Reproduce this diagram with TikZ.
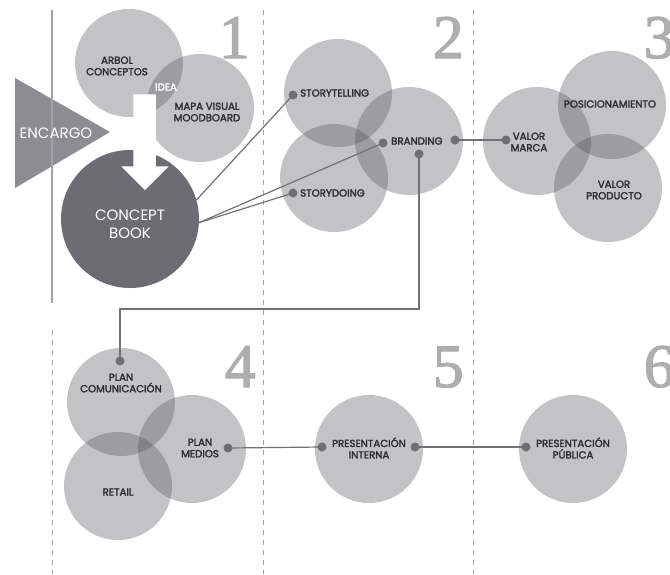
\documentclass[tikz,border=0pt]{standalone}
\usepackage{fontspec}
\setmainfont{Poppins}
\newfontfamily\lblfont{Poppins}[FakeBold=2.4]
\newfontfamily\numfont{Liberation Serif}[FakeBold=2]
\definecolor{circgray}{HTML}{55545C}
\definecolor{darkc}{HTML}{6D6C72}
\definecolor{trig}{HTML}{8D8C92}
\definecolor{dotc}{HTML}{6F6E74}
\definecolor{linec}{HTML}{727176}
\definecolor{numc}{HTML}{AEADB0}
\definecolor{txt}{HTML}{2E2D33}
\definecolor{guide}{HTML}{A3A3A3}
\begin{document}
\begin{tikzpicture}[x=1pt,y=-1pt,
  circ/.style={circle, fill=circgray, fill opacity=0.35, minimum size=108pt, inner sep=0pt},
  lbl/.style={font=\lblfont\fontsize{10.2}{11.5}\selectfont, text=txt, align=center, inner sep=0pt},
  wlbl/.style={font=\fontsize{14}{17}\selectfont, text=white, align=center, inner sep=0pt},
  dotn/.style={circle, fill=dotc, minimum size=9pt, inner sep=0pt},
  conn/.style={draw=linec, line width=1.2pt},
  num/.style={font=\numfont\fontsize{62}{62}\selectfont, text=numc, anchor=base east, inner sep=0pt},
  guideline/.style={draw=guide, line width=0.9pt, dash pattern=on 5pt off 5pt},
  solidguide/.style={draw=guide, line width=1.3pt},
]
\useasboundingbox (0,0) rectangle (670,574);
\fill[white] (0,0) rectangle (670,574);

% guide lines
\coordinate (g1t) at (52,10); \coordinate (g1b) at (52,303);
\coordinate (g1u) at (52,330); \coordinate (g1e) at (52,574);
\coordinate (g2t) at (263,10); \coordinate (g2e) at (263,574);
\coordinate (g3t) at (473,10); \coordinate (g3e) at (473,574);
\draw[guideline] (g1u) -- (g1e);
\draw[guideline] (g2t) -- (g2e);
\draw[guideline] (g3t) -- (g3e);

% numbers
\node[num] (n1) at (250,58) {1};
\node[num] (n2) at (464,58) {2};
\node[num] (n3) at (675,58) {3};
\node[num] (n4) at (256,387) {4};
\node[num] (n5) at (464,387) {5};
\node[num] (n6) at (675,387) {6};

% encargo
\fill[trig] (15,78) -- (110,132) -- (15,188) -- cycle;
\draw[solidguide] (g1t) -- (g1b);
\node[wlbl, font=\fontsize{15}{15}\selectfont] (enc) at (56,133) {ENCARGO};

% circles section 1
\node[circ] (arbol) at (129,63) {};
\node[circ] (mapa) at (200,108) {};
\node[circle, fill=darkc, minimum size=138pt, inner sep=0pt] (cb) at (130,219) {};
% white arrow
\fill[white, draw=white, line width=1.5pt, line join=miter]
  (134,95) -- (155,95) -- (155,167) -- (167,167) -- (145,189) -- (123,167) -- (134,167) -- cycle;

% section 2
\node[circ] (stel) at (338,93) {};
\node[circ] (sdo) at (334,178) {};
\node[circ] (brand) at (409,141) {};
% section 3
\node[circ] (vmarca) at (537,141) {};
\node[circ] (posic) at (612,105) {};
\node[circ] (vprod) at (608,188) {};
% section 4-6
\node[circ] (pcom) at (121,402) {};
\node[circ] (retail) at (118,486) {};
\node[circ] (pmed) at (192,449) {};
\node[circ] (pint) at (369,449) {};
\node[circ] (ppub) at (573,449) {};

% dot positions
\coordinate (stdot) at (293,95);
\coordinate (sddot) at (293,193);
\coordinate (brl) at (383,143);
\coordinate (brr) at (455,140);
\coordinate (brb) at (419,154);
\coordinate (vmdot) at (506,140);
\coordinate (pcdot) at (120,361);
\coordinate (pmdot) at (228,448);
\coordinate (pil) at (322,447);
\coordinate (pir) at (415,447);
\coordinate (ppdot) at (526,447);
\coordinate (k1) at (419,309);
\coordinate (k2) at (120,309);

% connectors
\draw[conn] (cb.16) -- (stdot);
\draw[conn] (cb.-3) -- (sddot);
\draw[conn] (cb.-3) -- (brl);
\draw[conn] (brr) -- (vmdot);
\draw[conn] (brb) -- (k1) -- (k2) -- (pcdot);
\draw[conn] (pmdot) -- (pil);
\draw[conn] (pir) -- (ppdot);

% dots
\foreach \p in {stdot,sddot,brl,brr,brb,vmdot,pcdot,pmdot,pil,pir,ppdot}
  \node[dotn] (d-\p) at (\p) {};

% labels
\node[lbl] (tarbol) at (117,66) {ARBOL\\CONCEPTOS};
\node[lbl, text=white] (tidea) at (166,87) {IDEA};
\node[lbl] (tmapa) at (207,112) {MAPA VISUAL\\MOODBOARD};
\node[wlbl, font=\fontsize{15}{18}\selectfont] (tcb) at (130,224) {CONCEPT\\BOOK};
\node[lbl, anchor=west] (tstel) at (300,93) {STORYTELLING};
\node[lbl, anchor=west] (tsdo) at (300,193) {STORYDOING};
\node[lbl, anchor=west] (tbrand) at (391,141) {BRANDING};
\node[lbl] (tvm) at (529,142) {VALOR\\MARCA};
\node[lbl] (tpos) at (610,104) {POSICIONAMIENTO};
\node[lbl] (tvp) at (614,190) {VALOR\\PRODUCTO};
\node[lbl] (tpc) at (121,383) {PLAN\\COMUNICACIÓN};
\node[lbl] (tret) at (118,492) {RETAIL};
\node[lbl] (tpm) at (200,448) {PLAN\\MEDIOS};
\node[lbl] (tpi) at (369,448) {PRESENTACIÓN\\INTERNA};
\node[lbl] (tpp) at (573,448) {PRESENTACIÓN\\PÚBLICA};
\end{tikzpicture}
\end{document}
